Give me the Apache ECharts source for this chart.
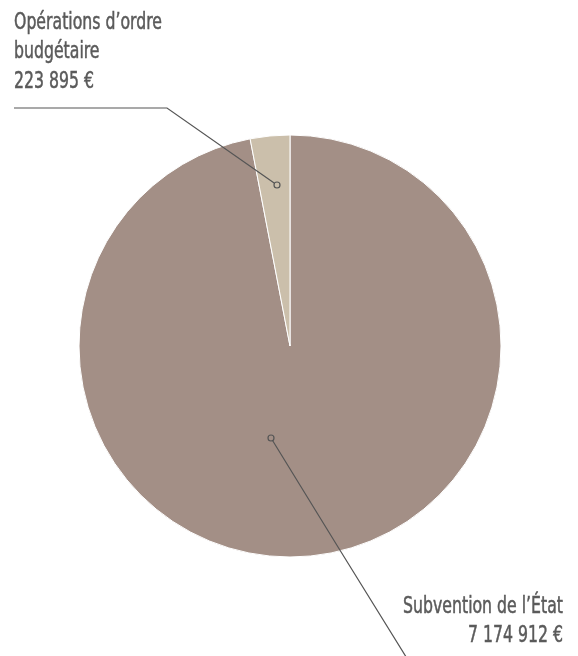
<!DOCTYPE html>
<html><head><meta charset="utf-8">
<script src="https://cdn.jsdelivr.net/npm/echarts@6/dist/echarts.min.js"></script>
<style>html,body{margin:0;padding:0;background:#fff}#c{width:578px;height:656px}</style>
</head><body><div id="c"></div>
<script>
const categories = ["Subvention de l’État", "Opérations d’ordre budgétaire"];
const labelLines = [["Subvention de l’État"], ["Opérations d’ordre", "budgétaire"]];
const values = [7174912, 223895];
const valueLabels = ["7 174 912 €", "223 895 €"];

const colors = ['#a38f86', '#cbbfab'];
const FONT = '"DejaVu Sans Condensed","DejaVu Sans",sans-serif';
const TEXT_COLOR = '#5a5a5a';
const layouts = [
  { x: 563, y0: 607, align: 'right', pts: [[271, 438], [338, 547], [408, 660]] },
  { x: 14, y0: 23, align: 'left', pts: [[277, 185], [167, 108], [14, 108]] }
];
const LINE_H = 29.5;

const graphics = [];
layouts.forEach((l, i) => {
  const lines = labelLines[i].concat([valueLabels[i]]);
  lines.forEach((t, k) => {
    graphics.push({
      type: 'text', x: l.x, y: l.y0 + k * LINE_H, scaleX: 0.76, z: 100,
      style: { text: t, fontFamily: FONT, fontSize: 23, fill: TEXT_COLOR,
               stroke: TEXT_COLOR, lineWidth: 0.5,
               align: l.align, verticalAlign: 'middle' }
    });
  });
  graphics.push({
    type: 'polyline', z: 100, shape: { points: l.pts },
    style: { stroke: '#555', lineWidth: 1.2, fill: null }
  });
  graphics.push({
    type: 'circle', z: 101, shape: { cx: l.pts[0][0], cy: l.pts[0][1], r: 3 },
    style: { fill: colors[i], stroke: '#555', lineWidth: 1.2 }
  });
});

const chart = echarts.init(document.getElementById('c'), null, { renderer: 'canvas' });
chart.setOption({
  animation: false,
  backgroundColor: '#ffffff',
  graphic: graphics,
  series: [{
    type: 'pie',
    center: [290, 346],
    radius: 211,
    startAngle: 90,
    clockwise: true,
    silent: true,
    itemStyle: { borderColor: '#fff', borderWidth: 1 },
    label: { show: false },
    labelLine: { show: false },
    data: categories.map((c, i) => ({ name: c, value: values[i], itemStyle: { color: colors[i] } }))
  }]
});
</script></body></html>
